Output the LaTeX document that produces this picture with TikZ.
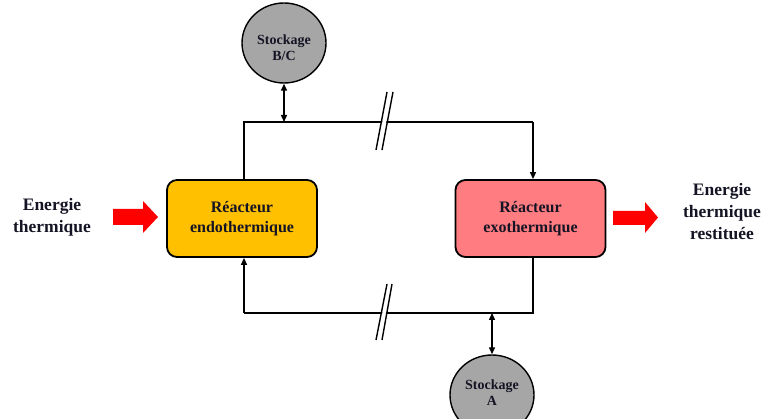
\documentclass[tikz,border=0pt]{standalone}
\usepackage{fontspec}
\setmainfont{Liberation Serif}
\usetikzlibrary{shapes.geometric,arrows.meta}
\definecolor{endofill}{HTML}{FFC000}
\definecolor{exofill}{HTML}{FF7C80}
\definecolor{storefill}{HTML}{A6A6A6}
\definecolor{heatred}{HTML}{FF0000}
\definecolor{ink}{HTML}{141424}
\begin{document}
\begin{tikzpicture}[x=1pt,y=-1pt,
  reactor/.style={draw, line width=1.8pt, rounded corners=10pt, minimum width=150pt, minimum height=77pt,
    align=center, font=\bfseries\fontsize{16}{20}\selectfont, text=ink, inner sep=0pt},
  store/.style={ellipse, draw, line width=1.4pt, fill=storefill, minimum width=84pt, minimum height=80pt,
    inner sep=0pt},
  storetext/.style={align=center, font=\bfseries\fontsize{14}{16}\selectfont, text=ink, inner sep=0pt},
  label/.style={align=center, font=\bfseries\fontsize{17.5}{22}\selectfont, text=ink, inner sep=0pt},
  link/.style={line width=1.4pt},
  tip/.style={-{Triangle[length=7pt,width=6pt]}},
  bothtips/.style={{Triangle[length=7pt,width=6pt]}-{Triangle[length=7pt,width=6pt]}},
  breakmark/.style={line width=1.4pt},
  heat/.style={fill=heatred}]
\useasboundingbox (0,0) rectangle (765,419);

% reactors
\node[reactor, fill=endofill] (endo) at (242,218.5) {Réacteur\\endothermique};
\node[reactor, fill=exofill] (exo) at (530.5,218.5) {Réacteur\\exothermique};

% storage tanks and their captions
\node[store] (bc) at (284,43) {};
\node[storetext] (bctext) at (284,48) {Stockage\\B/C};
\node[store] (sa) at (492,395) {};
\node[storetext] (satext) at (492,393) {Stockage\\A};

% outside heat flows
\node[label] (hin) at (52,217) {Energie\\thermique};
\node[label] (hout) at (722,212) {Energie\\thermique\\restituée};

% loop corners
\coordinate (tl) at (244,122);
\coordinate (tr) at (533,122);
\coordinate (bl) at (244,313);
\coordinate (br) at (533,313);

% upper branch: endothermic -> exothermic
\draw[link] (endo.north -| tl) -- (tl) -- (tr);
\draw[link, tip] (tr) -- (exo.north -| tr);
% lower branch: exothermic -> endothermic
\draw[link] (exo.south -| br) -- (br) -- (bl);
\draw[link, tip] (bl) -- (endo.south -| bl);

% exchanges with storage
\draw[link, bothtips] (bc.south) -- (bc.south |- tl);
\draw[link, bothtips] (sa.north |- bl) -- (sa.north);

% break marks on the loop
\fill[white] (377,150) -- (388,92) -- (392,92) -- (381,150) -- cycle;
\draw[breakmark] (376,150) -- (387,92);
\draw[breakmark] (382,150) -- (393,92);
\fill[white] (377,340) -- (388,284) -- (391,284) -- (381,340) -- cycle;
\draw[breakmark] (376,340) -- (387,284);
\draw[breakmark] (382,340) -- (392,284);

% thick red arrows for the heat
\fill[heat] (113,209) -- (143,209) -- (143,201) -- (158,217) -- (143,233) -- (143,225) -- (113,225) -- cycle;
\fill[heat] (613,211) -- (645,211) -- (645,202) -- (658,217.5) -- (645,233) -- (645,225) -- (613,225) -- cycle;
\end{tikzpicture}
\end{document}
